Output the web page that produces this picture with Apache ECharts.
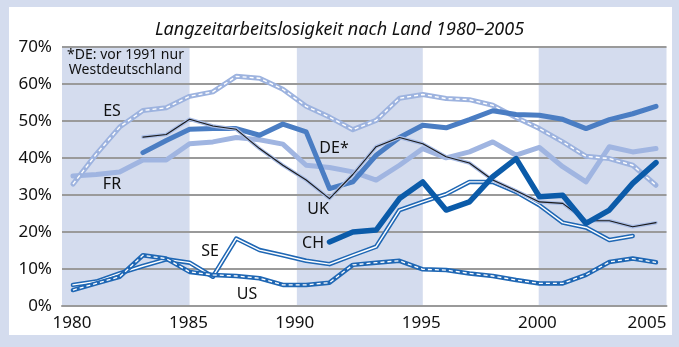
<!DOCTYPE html>
<html><head><meta charset="utf-8">
<script src="https://cdn.jsdelivr.net/npm/echarts@6/dist/echarts.min.js"></script>
<style>html,body{margin:0;padding:0;background:#d4dcee}#c{width:679px;height:347px}</style>
</head><body><div id="c"></div>
<script>
const years = [1980,1981,1982,1983,1984,1985,1986,1987,1988,1989,1990,1991,1992,1993,1994,1995,1996,1997,1998,1999,2000,2001,2002,2003,2004,2005];
const ES = [32.9,41,48.3,52.8,53.5,56.6,57.8,62.0,61.5,58.5,53.9,51.0,47.6,50.1,56.1,57.1,56.0,55.7,54.2,50.9,47.9,44.3,40.4,39.8,38.0,32.6];
const FR = [35.1,35.5,36.2,39.4,39.4,43.8,44.3,45.5,44.9,43.7,38.0,37.4,36.2,34.0,38.0,42.5,40.0,41.6,44.3,40.7,42.8,37.6,33.5,43.0,41.6,42.5];
const DE = [null,null,null,41.4,44.7,47.7,47.9,47.9,46.1,49.1,47.0,31.7,33.5,40.7,45.5,48.8,48.1,50.3,52.7,51.7,51.5,50.4,47.9,50.3,51.9,53.9];
const UK = [null,null,null,45.6,46.3,50.4,48.6,47.7,42.5,38.0,34.0,29.0,35.5,43.0,45.5,43.8,40.3,38.6,34.0,31.1,28.1,27.7,23.0,23.0,21.4,22.5];
const CH = [null,null,null,null,null,null,null,null,null,null,null,17.3,20.0,20.5,29.0,33.5,25.9,28.1,34.9,39.8,29.5,29.9,22.3,25.9,33.1,38.7];
const SE = [5.7,6.6,8.8,10.8,12.6,11.7,7.9,18.2,15.1,13.7,12.2,11.3,13.7,16.0,25.9,28.1,30.2,33.5,33.5,30.8,27.2,22.5,21.2,17.8,18.9,null];
const US = [4.3,6.1,7.9,13.7,12.8,9.2,8.4,8.1,7.5,5.7,5.7,6.3,11.1,11.7,12.2,9.9,9.7,8.8,8.1,7.0,6.1,6.1,8.4,11.9,12.8,11.8];
const yTicks = [0,10,20,30,40,50,60,70];
const xTicks = [1980,1985,1990,1995,2000,2005];
const bandStart = [1979.53,1989.6,1999.97];
const bandEnd = [1985.0,1995.0,2005.45];
const seriesNames = ['ES','FR','DE*','UK','CH','SE','US'];
const noteText = '*DE: vor 1991 nur\nWestdeutschland';
const titleText = 'Langzeitarbeitslosigkeit nach Land 1980–2005';

const pair = a => years.map((y,i)=>[y,a[i]]);
const FONT = '"Noto Sans", sans-serif';
const labelShift = {1980:1,1985:1,1990:11.5,1995:1.6,2000:2,2005:9};

function line(name, data, color, width, extra) {
  return Object.assign({
    type:'line', name, data:pair(data), symbol:'none', silent:true, connectNulls:false,
    lineStyle:{color, width, cap:'round', join:'round'}
  }, extra||{});
}

const chart = echarts.init(document.getElementById('c'), null, {renderer:'canvas'});
const series = [
  {type:'custom', z:-1, silent:true, data: bandStart.map((s,i)=>[s,bandEnd[i]]),
   renderItem:(params, api)=>{
     const p1 = api.coord([api.value(0), 70]);
     const p2 = api.coord([api.value(1), 0]);
     return {type:'rect', shape:{x:p1[0], y:p1[1], width:p2[0]-p1[0], height:p2[1]-p1[1]}, style:{fill:'#d4dcee'}};
   }},
  line('FR', FR, '#a0b5e1', 5),
  line('ES', ES, '#9db3df', 5),
  line('ES_in', ES, '#ffffff', 1.4, {lineStyle:{color:'#fff', width:1.4, type:[4,3], cap:'butt', join:'round'}}),
  line('DE*', DE, '#4a7dc3', 5),
  line('SE', SE, '#1f67b4', 4.5),
  line('SE_in', SE, '#ffffff', 1.4),
  line('US', US, '#1f67b4', 4.5),
  line('US_in', US, '#ffffff', 1.3, {lineStyle:{color:'#fff', width:1.3, type:[4,3], cap:'butt', join:'round'}}),
  line('UK_halo', UK, '#a8bce5', 3.5),
  line('UK', UK, '#1a1a1a', 1.1),
  line('CH', CH, '#0b5ba9', 5.5)
];

const lbl = (text, x, y) => ({type:'text', x, y, z:50, style:{text, fill:'#111', font:'16px '+FONT, textAlign:'center', textVerticalAlign:'middle'}});

chart.setOption({
  animation:false,
  backgroundColor:'#d4dcee',
  title:{text:titleText, left:'center', top:16, textStyle:{fontFamily:FONT, fontSize:18, fontStyle:'italic', fontWeight:'normal', color:'#111'}},
  grid:{left:62, right:12.5, top:46.7, bottom:41, containLabel:false},
  xAxis:{type:'value', min:1979.53, max:2005.45,
    axisLine:{show:true, lineStyle:{color:'#9a9a9a', width:2}},
    axisTick:{show:false}, splitLine:{show:false},
    axisLabel:{customValues:xTicks, margin:9, color:'#111', fontFamily:FONT, fontSize:17,
      formatter:v=>'{a'+String(v).slice(2)+'|'+v+'}',
      rich:Object.fromEntries(xTicks.map(t=>['a'+String(t).slice(2),{fontFamily:FONT,fontSize:17,color:'#111',padding:[0,2*labelShift[t],0,0]}]))}
  },
  yAxis:{type:'value', min:0, max:70, interval:10,
    axisLine:{show:false}, axisTick:{show:false},
    splitLine:{show:true, lineStyle:{color:'#9a9a9a', width:2}},
    axisLabel:{margin:10, color:'#111', fontFamily:FONT, fontSize:17, formatter:v=>v+'%'}
  },
  graphic:[
    {type:'rect', z:-100, shape:{x:9, y:7, width:663, height:328}, style:{fill:'#ffffff'}},
    {type:'text', x:125.5, y:63, z:50, style:{text:noteText, fill:'#111', font:'14px '+FONT, textAlign:'center', textVerticalAlign:'middle', lineHeight:15}},
    lbl('ES',112,111), lbl('FR',112,184), lbl('DE*',334,148), lbl('UK',318,209),
    lbl('CH',313,243), lbl('SE',210,251), lbl('US',247,294)
  ],
  series
});
</script></body></html>
